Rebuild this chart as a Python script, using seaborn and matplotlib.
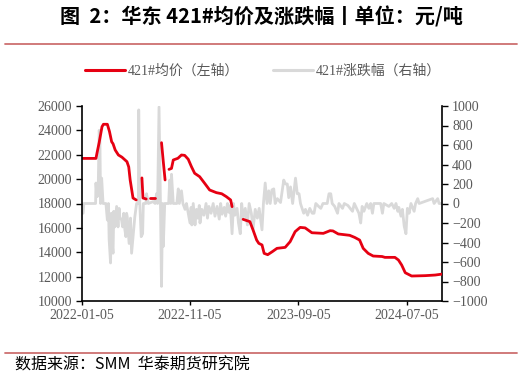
import numpy as np
import pandas as pd
import matplotlib
matplotlib.use("Agg")
import matplotlib.pyplot as plt
from matplotlib.lines import Line2D
import seaborn as sns

# ---------------- data ----------------
price_dates = [
    "2022-01-05", "2022-02-14", "2022-02-17", "2022-02-23", "2022-03-03", "2022-03-07",
    "2022-03-18", "2022-03-24", "2022-03-30", "2022-04-03", "2022-04-09", "2022-04-18",
    "2022-04-28", "2022-05-12", "2022-05-17", "2022-05-21", "2022-05-29", "2022-06-07",
    "2022-06-15",
    "2022-06-23", "2022-06-26", "2022-07-05",
    "2022-07-10",
    "2022-07-15", "2022-07-31",
    "2022-08-10",
    "2022-08-17", "2022-08-22", "2022-08-27",
    "2022-09-01",
    "2022-09-07", "2022-09-14", "2022-09-19", "2022-10-02", "2022-10-12", "2022-10-21",
    "2022-10-31", "2022-11-09", "2022-11-18", "2022-12-02", "2022-12-16", "2022-12-30",
    "2023-01-18", "2023-02-02", "2023-02-15", "2023-02-27", "2023-03-03",
    "2023-03-20",
    "2023-04-03", "2023-04-22", "2023-05-01", "2023-05-11", "2023-05-17", "2023-05-26",
    "2023-06-01", "2023-06-11", "2023-06-24", "2023-07-07", "2023-07-30", "2023-08-13",
    "2023-08-27", "2023-09-10", "2023-09-24", "2023-10-13", "2023-11-14", "2023-12-03",
    "2023-12-11", "2023-12-26", "2024-01-27", "2024-02-10", "2024-02-24", "2024-03-05",
    "2024-03-19", "2024-04-02", "2024-04-27", "2024-05-05", "2024-06-02", "2024-06-12",
    "2024-06-21", "2024-07-01", "2024-07-19", "2024-08-26", "2024-09-23", "2024-10-13",
]
price_values = [
    21700, 21700, 22150, 23000, 24300, 24500,
    24500, 23900, 23070, 22900, 22390, 21980,
    21800, 21430, 21000, 19930, 18450, 18290,
    np.nan,
    20100, 18450, 18370,
    np.nan,
    18480, 18480,
    np.nan,
    22990, 21430, 19930,
    np.nan,
    20800, 20880, 21570, 21710, 21980, 21950,
    21630, 21020, 20480, 20200, 19660, 19110,
    18890, 18800, 18560, 18290, 17740,
    np.nan,
    16700, 16510, 15820, 15000, 14730, 14600,
    13910, 13800, 14050, 14320, 14400, 14870,
    15690, 16040, 16000, 15600, 15550, 15770,
    15750, 15500, 15390, 15220, 15000, 14320,
    13910, 13690, 13650, 13580, 13580, 13360,
    12950, 12320, 12050, 12080, 12130, 12210,
]

change_dates = [
    "2022-01-05", "2022-01-09", "2022-01-11", "2022-02-13", "2022-02-14", "2022-02-17",
    "2022-02-20", "2022-02-23", "2022-02-25", "2022-02-27", "2022-03-02", "2022-03-06",
    "2022-03-14", "2022-03-18", "2022-03-21", "2022-03-23", "2022-03-27", "2022-03-29",
    "2022-03-31", "2022-04-03", "2022-04-05", "2022-04-08", "2022-04-13", "2022-04-17",
    "2022-04-20", "2022-04-22", "2022-04-27", "2022-04-30", "2022-05-03", "2022-05-06",
    "2022-05-09", "2022-05-11", "2022-05-13", "2022-05-18", "2022-05-22", "2022-05-25",
    "2022-05-29", "2022-06-03", "2022-06-08", "2022-06-13", "2022-06-14", "2022-06-17",
    "2022-06-21", "2022-06-25", "2022-06-27", "2022-07-04", "2022-07-06", "2022-07-11",
    "2022-07-25", "2022-07-30", "2022-08-03", "2022-08-06", "2022-08-10", "2022-08-14",
    "2022-08-17", "2022-08-20", "2022-08-22", "2022-08-26", "2022-09-06", "2022-09-09",
    "2022-09-12", "2022-09-14", "2022-09-19", "2022-09-29", "2022-10-03", "2022-10-06",
    "2022-10-12", "2022-10-16", "2022-10-22", "2022-10-26", "2022-10-31", "2022-11-05",
    "2022-11-08", "2022-11-10", "2022-11-14", "2022-11-19", "2022-11-23", "2022-11-27",
    "2022-12-01", "2022-12-03", "2022-12-08", "2022-12-14", "2022-12-20", "2022-12-24",
    "2022-12-28", "2023-01-03", "2023-01-09", "2023-01-14", "2023-01-20", "2023-01-26",
    "2023-01-30", "2023-02-03", "2023-02-09", "2023-02-13", "2023-02-18", "2023-02-22",
    "2023-02-26", "2023-03-03", "2023-03-07", "2023-03-11", "2023-03-17", "2023-03-21",
    "2023-03-26", "2023-03-30", "2023-04-03", "2023-04-09", "2023-04-15", "2023-04-20",
    "2023-04-26", "2023-05-01", "2023-05-07", "2023-05-13", "2023-05-18", "2023-05-26",
    "2023-05-30", "2023-06-04", "2023-06-09", "2023-06-14", "2023-06-18", "2023-06-23",
    "2023-06-28", "2023-07-02", "2023-07-08", "2023-07-17", "2023-07-26", "2023-07-31",
    "2023-08-05", "2023-08-09", "2023-08-14", "2023-08-20", "2023-08-28", "2023-09-02",
    "2023-09-07", "2023-09-11", "2023-09-20", "2023-09-25", "2023-10-01", "2023-10-07",
    "2023-10-14", "2023-10-19", "2023-10-24", "2023-11-01", "2023-11-07", "2023-11-13",
    "2023-11-25", "2023-11-30", "2023-12-05", "2023-12-09", "2023-12-16", "2023-12-24",
    "2023-12-28", "2024-01-07", "2024-01-12", "2024-01-22", "2024-02-04", "2024-02-09",
    "2024-02-22", "2024-02-27", "2024-03-02", "2024-03-07", "2024-03-15", "2024-03-21",
    "2024-03-26", "2024-03-31", "2024-04-04", "2024-04-23", "2024-04-28", "2024-05-02",
    "2024-05-16", "2024-05-24", "2024-05-31", "2024-06-05", "2024-06-10", "2024-06-13",
    "2024-06-19", "2024-06-23", "2024-06-28", "2024-07-03", "2024-07-07", "2024-07-12",
    "2024-07-17", "2024-07-26", "2024-07-30", "2024-08-05", "2024-08-09", "2024-09-16",
    "2024-09-20", "2024-09-30", "2024-10-04", "2024-10-13",
]
change_values = [
    -100, -100, 0, 0, 210, 70,
    80, 750, 700, 0, 260, 0,
    0, -170, 0, -370, -610, -100,
    -370, -510, -80, -240, -30, -240,
    -50, -140, -170, -240, -100, -265,
    -340, -100, -140, -410, -150, -510,
    -340, -140, 0, 0, 960, 0,
    -340, -310, 0, 0, 100, 0,
    20, 0, 100, 0, 990, 0,
    -850, 0, -440, 0, 0, 240,
    0, 300, 0, 0, 150, 0,
    130, 0, -60, 0, -100, -200,
    -40, -220, 0, -220, -60, -150,
    -20, -200, -60, -120, 0, -150,
    -30, -100, 0, -130, -30, -160,
    0, -110, -40, -130, 0, -90,
    -20, -310, 0, -120, -50, -200,
    -310, 0, -150, -50, -220, 0,
    -100, -260, -60, -150, -50, -270,
    0, 210, 0, 130, 0, 140,
    150, 0, 50, 10, 240, 200,
    200, 60, 170, 0, 260, 100,
    100, 0, -100, -60, -120, -50,
    -100, -100, 0, -30, -50, 0,
    0, 100, 100, 0, -30, -100,
    0, -50, 0, -20, -80, 0,
    -100, -200, -30, -80, 0, -50,
    0, -100, 0, 0, -100, 0,
    -30, 0, -50, 0, -80, -40,
    -130, -60, -230, -310, -50, -100,
    0, -80, 0, 50, 0, 50,
    0, 50, 0, 0,
]

left_ticks = [10000, 12000, 14000, 16000, 18000, 20000, 22000, 24000, 26000]
right_ticks = [-1000, -800, -600, -400, -200, 0, 200, 400, 600, 800, 1000]
x_tick_labels = ["2022-01-05", "2022-11-05", "2023-09-05", "2024-07-05"]
x_start, x_end = "2022-01-05", "2024-10-13"

title = "图  2：华东 421#均价及涨跌幅丨单位：元/吨"
legend_labels = ["421#均价（左轴）", "421#涨跌幅（右轴）"]
source = "数据来源：SMM  华泰期货研究院"

# ---------------- frames ----------------
price_df = pd.DataFrame({"date": pd.to_datetime(price_dates), "price": price_values})
price_df["seg"] = price_df["price"].isna().cumsum()
price_df = price_df.dropna()
chg_df = pd.DataFrame({"date": pd.to_datetime(change_dates), "chg": change_values})

# ---------------- style ----------------
sns.set_theme(style="white")
plt.rcParams["font.family"] = ["Liberation Serif", "Noto Sans CJK SC", "DejaVu Sans"]

RED = "#E60012"
GRAY = "#D9D9D9"
TXT = "#595959"

fig = plt.figure(figsize=(5.22, 3.78), dpi=100)
ax = fig.add_axes([81.7 / 522, 1 - 301 / 378, (442.3 - 81.7) / 522, (301 - 106) / 378])
ax2 = ax.twinx()

sns.lineplot(data=chg_df, x="date", y="chg", ax=ax2, color=GRAY, lw=2.0,
             estimator=None, legend=False)
sns.lineplot(data=price_df, x="date", y="price", units="seg", estimator=None, ax=ax,
             color=RED, lw=2.0, legend=False)

ax.set_zorder(ax2.get_zorder() + 1)
ax.patch.set_visible(False)

ax.set_ylim(10000, 26000)
ax.set_yticks(left_ticks)
ax2.set_ylim(-1000, 1000)
ax2.set_yticks(right_ticks)
ax.set_xlim(pd.Timestamp(x_start), pd.Timestamp(x_end))
ax.set_xticks(pd.to_datetime(x_tick_labels))
ax.set_xticklabels(x_tick_labels)
ax.set_xlabel("")
ax.set_ylabel("")
ax2.set_ylabel("")

for a in (ax, ax2):
    for s in a.spines.values():
        s.set_visible(False)
for side in ("left", "bottom"):
    ax.spines[side].set_visible(True)
    ax.spines[side].set_color("black")
    ax.spines[side].set_linewidth(1.2)
ax2.spines["right"].set_visible(True)
ax2.spines["right"].set_color("black")
ax2.spines["right"].set_linewidth(1.2)

ax.tick_params(axis="y", which="both", left=True, length=4, width=1, color="black",
               labelsize=10, labelcolor=TXT, pad=3)
ax.tick_params(axis="x", which="both", bottom=True, length=3, width=1, color="black",
               labelsize=10, labelcolor=TXT, pad=3)
ax2.tick_params(axis="y", which="both", right=True, length=4, width=1, color="black",
                labelsize=10, labelcolor=TXT, pad=3)
for lab in ax.get_xticklabels() + ax.get_yticklabels() + ax2.get_yticklabels():
    lab.set_family(["Liberation Serif"])
ax.grid(False)
ax2.grid(False)

# legend
handles = [Line2D([], [], color=RED, lw=2.2), Line2D([], [], color=GRAY, lw=2.2)]
leg = fig.legend(handles, legend_labels, loc="center", bbox_to_anchor=(263 / 522, 1 - 71 / 378),
                 ncol=2, frameon=False, handlelength=2.9, handletextpad=0.2,
                 columnspacing=2.4, prop={"family": ["Liberation Serif", "Noto Sans CJK SC"], "size": 10})
for t in leg.get_texts():
    t.set_color(TXT)

# title and decorations
fig.text(0.5, 1 - 17 / 378, title, ha="center", va="center", fontsize=14.5, fontweight="bold",
         family=["Noto Sans CJK SC", "DejaVu Sans"], color="black")
fig.add_artist(Line2D([5 / 522, 517 / 522], [1 - 44 / 378] * 2, color="#CD6F70", lw=1.3))
fig.add_artist(Line2D([5 / 522, 517 / 522], [1 - 352.5 / 378] * 2, color="#CD6F70", lw=1.3))
fig.text(15 / 522, 1 - 365 / 378, source, ha="left", va="center", fontsize=11.5,
         family=["Noto Sans CJK SC", "DejaVu Sans"], color="black")

fig.savefig("out.png", dpi=100)
